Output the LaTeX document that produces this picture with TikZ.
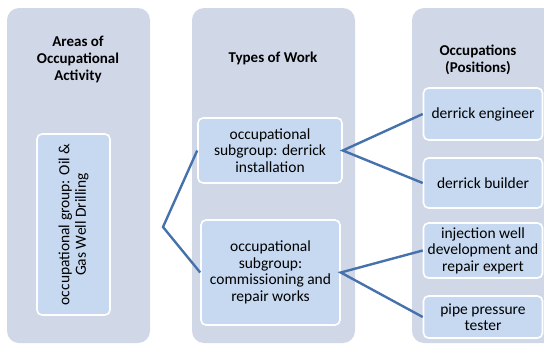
\documentclass[tikz,border=0pt]{standalone}
\usepackage{fontspec}
\setmainfont{Carlito}
\definecolor{panelgray}{HTML}{D0D8E8}
\definecolor{boxblue}{HTML}{C6D9F1}
\definecolor{linkblue}{HTML}{4672AC}
\begin{document}
\begin{tikzpicture}[x=1pt, y=-1pt,
    panel/.style={fill=panelgray, rounded corners=12pt},
    item/.style={draw=white, line width=1.6pt, fill=boxblue, rounded corners=5pt,
        align=center, inner sep=2pt, font=\fontsize{15.5}{16.5}\selectfont},
    heading/.style={align=center, font=\bfseries\fontsize{15}{17}\selectfont},
    link/.style={draw=linkblue, line width=2.4pt}]
    \useasboundingbox (0,0) rectangle (544,346);
    \clip (0,0) rectangle (544,346);

    % Draw the three columns
    \fill[panel] (7,8) rectangle (150,343);
    \fill[panel] (192,8) rectangle (355,343);
    \fill[panel] (412,8) rectangle (556,343);

    % Column headings
    \node[heading] (areas) at (78,59) {Areas of\\Occupational\\Activity};
    \node[heading] (types) at (273,58) {Types of Work};
    \node[heading] (occupations) at (478,60) {Occupations\\(Positions)};

    % Occupational group
    \node[item, rotate=90, minimum width=181pt, minimum height=73pt] (group) at (73.5,224.5)
        {occupational group: Oil \&\\Gas Well Drilling};

    % Types of work
    \node[item, minimum width=144pt, minimum height=65pt] (install) at (270,150.5)
        {occupational\\subgroup: derrick\\installation};
    \node[item, minimum width=139pt, minimum height=105pt] (repair) at (270.5,272.5)
        {occupational\\subgroup:\\commissioning and\\repair works};

    % Occupations
    \node[item, minimum width=119pt, minimum height=52pt] (engineer) at (483,114) {derrick engineer};
    \node[item, minimum width=119pt, minimum height=50pt] (builder) at (483,183) {derrick builder};
    \node[item, minimum width=119pt, minimum height=55pt] (expert) at (483,250.5)
        {injection well\\development and\\repair expert};
    \node[item, minimum width=119pt, minimum height=42pt] (tester) at (483,317) {pipe pressure\\tester};

    % Draw connectors
    \coordinate (fork) at (163,227);
    \draw[link] (install.west) -- (fork) -- (repair.west);
    \draw[link] (engineer.west) -- (install.east) -- (builder.west);
    \draw[link] (expert.west) -- (repair.east) -- (tester.west);
\end{tikzpicture}
\end{document}
